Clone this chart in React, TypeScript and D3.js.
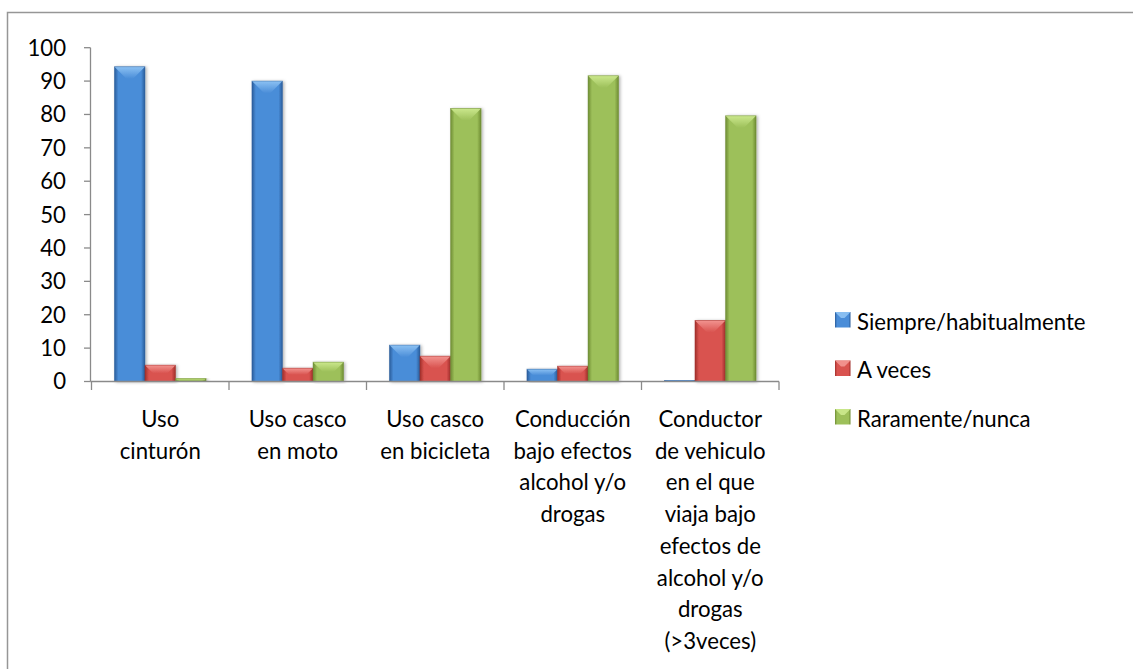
import React from "react";
import * as d3 from "d3";

const categories = [
  "Uso cinturón",
  "Uso casco en moto",
  "Uso casco en bicicleta",
  "Conducción bajo efectos alcohol y/o drogas",
  "Conductor de vehiculo en el que viaja bajo efectos de alcohol y/o drogas (>3veces)",
];
const categoryLines = [
  ["Uso", "cinturón"],
  ["Uso casco", "en moto"],
  ["Uso casco", "en bicicleta"],
  ["Conducción", "bajo efectos", "alcohol y/o", "drogas"],
  ["Conductor", "de vehiculo", "en el que", "viaja bajo", "efectos de", "alcohol y/o", "drogas", "(>3veces)"],
];
const seriesNames = ["Siempre/habitualmente", "A veces", "Raramente/nunca"];
const siempre = [94.3, 90.0, 10.9, 3.7, 0.4];
const aVeces = [4.9, 4.0, 7.6, 4.6, 18.3];
const raramente = [0.9, 5.8, 81.8, 91.6, 79.6];
const yTicks = [0, 10, 20, 30, 40, 50, 60, 70, 80, 90, 100];

const palettes = [
  { dark: "#2A5C9A", main: "#4A8DD8", light: "#93C7F6", id: "b" },
  { dark: "#A02E2A", main: "#D9534F", light: "#F59B97", id: "r" },
  { dark: "#6E8C33", main: "#9DC05A", light: "#D0EC92", id: "g" },
];

const FONT = "Lato, 'Carlito', Calibri, sans-serif";
const FS = 22.2;

export default function App() {
  const W = 1133, H = 669;
  const x0 = 91.5, x1 = 779;
  const yScale = d3.scaleLinear().domain([0, 100]).range([381.5, 47.7]);
  const xBand = d3.scaleBand<string>().domain(categories).range([x0, x1]).paddingInner(0).paddingOuter(0);
  const bw = xBand.bandwidth();
  const inner = d3
    .scaleBand<number>()
    .domain([0, 1, 2])
    .range([0, bw])
    .paddingInner(0)
    .paddingOuter(0.75);
  const allSeries = [siempre, aVeces, raramente];
  const axisColor = "#8a8a8a";

  const bars: any[] = [];
  allSeries.forEach((vals, si) => {
    vals.forEach((v, ci) => {
      const x = (xBand(categories[ci]) as number) + (inner(si) as number);
      const w = inner.bandwidth();
      const y = yScale(v);
      const h = yScale(0) - y;
      bars.push({ x, y, w, h, si, key: `${si}-${ci}` });
    });
  });

  return (
    <svg
      width={W}
      height={H}
      style={{ position: "fixed", left: 0, top: 0, background: "#fff" }}
      fontFamily={FONT}
    >
      <defs>
        {palettes.map((p) => (
          <linearGradient key={p.id} id={`side-${p.id}`} x1="0" x2="1" y1="0" y2="0">
            <stop offset="0" stopColor={p.dark} />
            <stop offset="0.13" stopColor={p.main} />
            <stop offset="0.5" stopColor={p.main} />
            <stop offset="0.87" stopColor={p.main} />
            <stop offset="1" stopColor={p.dark} />
          </linearGradient>
        ))}
        {palettes.map((p) => (
          <linearGradient key={p.id + "t"} id={`top-${p.id}`} x1="0" x2="0" y1="0" y2="1">
            <stop offset="0" stopColor={p.light} />
            <stop offset="1" stopColor={p.main} />
          </linearGradient>
        ))}
        <filter id="shadow" x="-30%" y="-10%" width="160%" height="120%">
          <feDropShadow dx="1.5" dy="0.5" stdDeviation="1.5" floodColor="#000" floodOpacity="0.3" />
        </filter>
      </defs>

      <rect x={7.5} y={12.5} width={1140} height={680} fill="#fff" stroke="#969696" strokeWidth={1.5} />

      {/* y axis */}
      <line x1={90.5} x2={90.5} y1={yScale(100)} y2={yScale(0)} stroke={axisColor} strokeWidth={1.3} />
      {yTicks.map((t) => (
        <g key={t}>
          <line x1={84} x2={90.5} y1={yScale(t)} y2={yScale(t)} stroke={axisColor} strokeWidth={1.3} />
          <text x={66} y={yScale(t)} dy="0.36em" textAnchor="end" fontSize={FS} fill="#000">
            {t}
          </text>
        </g>
      ))}

      {/* bars */}
      {bars.map((b) => {
        const p = palettes[b.si];
        const bv = Math.min(12, b.h / 2, b.w / 2);
        return (
          <g key={b.key} filter="url(#shadow)">
            <rect x={b.x} y={b.y} width={b.w} height={b.h} fill={`url(#side-${p.id})`} />
            <polygon
              points={`${b.x},${b.y} ${b.x + b.w},${b.y} ${b.x + b.w - bv},${b.y + bv} ${b.x + bv},${b.y + bv}`}
              fill={`url(#top-${p.id})`}
              opacity={0.9}
            />
            <rect x={b.x} y={b.y} width={b.w} height={b.h} fill="none" stroke={p.dark} strokeOpacity={0.55} strokeWidth={0.8} />
          </g>
        );
      })}

      {/* x axis */}
      <line x1={90.5} x2={x1} y1={yScale(0)} y2={yScale(0)} stroke={axisColor} strokeWidth={1.3} />
      {[...categories.map((c) => xBand(c) as number), x1].map((xx, i) => (
        <line key={i} x1={xx} x2={xx} y1={yScale(0)} y2={390} stroke={axisColor} strokeWidth={1.3} />
      ))}
      {categoryLines.map((lines, ci) => (
        <text
          key={ci}
          x={(xBand(categories[ci]) as number) + bw / 2}
          y={427}
          textAnchor="middle"
          fontSize={FS}
          fill="#000"
        >
          {lines.map((l, li) => (
            <tspan key={li} x={(xBand(categories[ci]) as number) + bw / 2} y={427 + li * 31.7}>
              {l}
            </tspan>
          ))}
        </text>
      ))}

      {/* legend */}
      {seriesNames.map((n, i) => {
        const p = palettes[i];
        const base = 329.5 + i * 48.5;
        const sx = 835, sy = base - 17.5, s = 15.5;
        return (
          <g key={n}>
            <rect x={sx} y={sy} width={s} height={s} fill={`url(#side-${p.id})`} />
            <polygon
              points={`${sx},${sy} ${sx + s},${sy} ${sx + s - 6},${sy + 6} ${sx + 6},${sy + 6}`}
              fill={p.light}
              opacity={0.85}
            />
            <text x={857} y={base} fontSize={FS} fill="#000">
              {n}
            </text>
          </g>
        );
      })}
    </svg>
  );
}
